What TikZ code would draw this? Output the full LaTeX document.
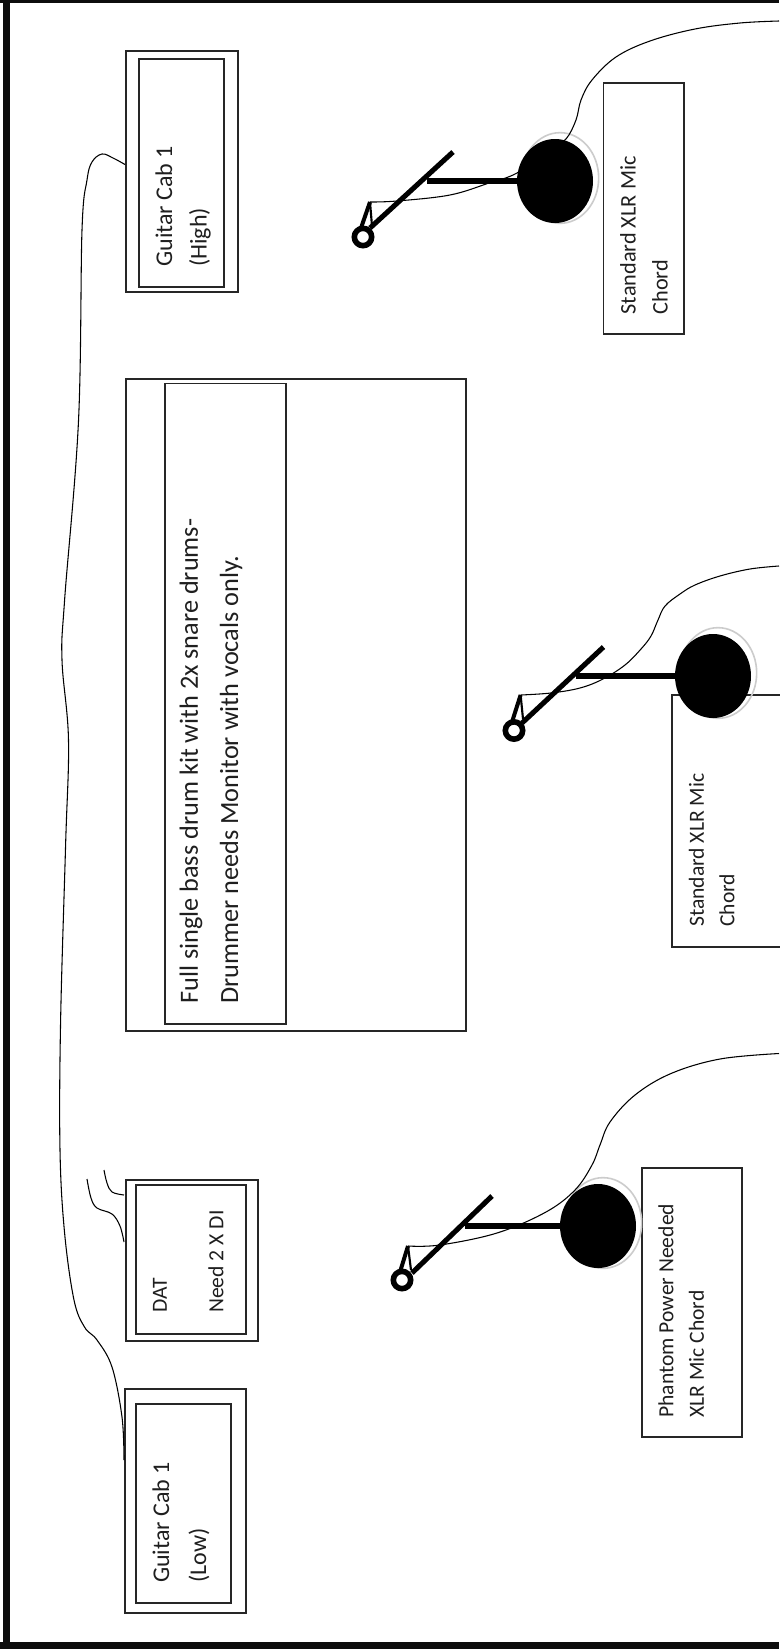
\documentclass[tikz,border=0pt]{standalone}
\usepackage{fontspec}
\setmainfont{Carlito}
\usetikzlibrary{fit,shapes.geometric}
\tikzset{
 x=.75pt,y=-.75pt,
 box/.style={draw=black!85,line width=1pt,fill=white,inner sep=0pt,rectangle},
 lab/.style={rotate=90,anchor=west,inner sep=0pt,text=black!88,font=\fontsize{16.2}{19}\selectfont},
 cablab/.style={lab,font=\fontsize{18}{21}\selectfont},
 biglab/.style={lab,font=\fontsize{19.7}{24}\selectfont},
 cable/.style={line width=.8pt,black,smooth,tension=.6},
 stem/.style={line width=4.4pt,black},
 tilt/.style={line width=3.8pt,black},
 head/.style={ellipse,fill=black,inner sep=0pt,minimum width=57pt,minimum height=63pt},
 halo/.style={ellipse,draw=black!20,line width=1.2pt,inner sep=0pt,minimum width=58pt,minimum height=68pt},
 ring/.style={circle,draw=black,line width=4.2pt,fill=white,inner sep=0pt,minimum size=13pt},
 leg/.style={line width=3pt,black}
}
\begin{document}
\begin{tikzpicture}
\useasboundingbox (0,0) rectangle (779,1649);
\fill[white] (0,0) rectangle (779,1649);
% page border
\fill[black!95] (0,0) rectangle (779,3);
\fill[black!95] (3,0) rectangle (10,1649);
\fill[black!95] (0,1642) rectangle (779,1649);

% guitar cab high
\node[box,fit={(126,51)(238,292)}] (highOuter) {};
\node[box,fit={(139,59)(224,287)}] (highInner) {};
\node[cablab] (highA) at (164,267) {Guitar Cab 1};
\node[cablab] (highB) at (200,267) {(High)};
% drums
\node[box,fit={(126,379)(466,1031)}] (drumOuter) {};
\node[box,fit={(165,383.5)(286,1024)}] (drumInner) {};
\node[biglab] (drumA) at (191,1004) {Full single bass drum kit with 2x snare drums-};
\node[biglab] (drumB) at (231,1004) {Drummer needs Monitor with vocals only.};
% DAT
\node[box,fit={(126,1180)(258,1341)}] (datOuter) {};
\node[box,fit={(136,1185)(246,1334)}] (datInner) {};
\node[lab] (datA) at (160,1313) {DAT};
\node[lab] (datB) at (216,1313) {Need 2 X DI};
% guitar cab low
\node[box,fit={(125,1389)(246,1613)}] (lowOuter) {};
\node[box,fit={(136,1404)(231,1603)}] (lowInner) {};
\node[cablab] (lowA) at (161,1583) {Guitar Cab 1};
\node[cablab] (lowB) at (199,1583) {(Low)};

% guitar cable
\coordinate (cabHigh) at (125,164.5);
\coordinate (cabLow) at (124,1460);
\draw[cable] plot coordinates {(cabHigh) (113,158) (102,154) (92,162) (87,180) (82,230) (78.5,421) (64.6,600) (62,660) (68.5,740) (65.6,845) (60.6,1021) (60,1150) (64.6,1233) (74,1300) (84.5,1327) (97,1340) (112,1367) (122,1417) (cabLow)};
% DI wires
\coordinate (diA) at (124,1195);
\coordinate (diB) at (124,1242);
\coordinate (diAend) at (104,1170);
\coordinate (diBend) at (87,1179);
\draw[cable] plot coordinates {(diAend) (107,1183) (112,1192) (diA)};
\draw[cable] plot coordinates {(diBend) (91,1198) (97,1208) (112,1214) (120,1226) (diB)};

% labels of mics
\node[box,fit={(603.5,83)(684,334)}] (micOneBox) {};
\node[lab,font=\fontsize{16.7}{19}\selectfont] (micOneA) at (628,314.6) {Standard XLR Mic};
\node[lab,font=\fontsize{16.7}{19}\selectfont] (micOneB) at (660,314.6) {Chord};
\node[box,fit={(672,695)(781,947)}] (micTwoBox) {};
\node[lab] (micTwoA) at (696.5,927) {Standard XLR Mic};
\node[lab] (micTwoB) at (727,927) {Chord};
\node[box,fit={(642,1168)(742,1437)}] (micThreeBox) {};
\node[lab] (micThreeA) at (666,1418) {Phantom Power Needed};
\node[lab] (micThreeB) at (696.5,1418) {XLR Mic Chord};

% mic 1
\coordinate (oneTop) at (370,202);
\coordinate (oneEdge) at (779,21);
\node[ring] (oneRing) at (363,237) {};
\draw[leg] (oneTop) -- (361,228);
\draw[line width=1.6pt] (oneTop) -- (372,226);
\coordinate (oneStem) at (427,181);
\coordinate (oneTipA) at (453,152);
\coordinate (oneTipB) at (370,228);
\node[halo] (oneHalo) at (560,178) {};
\draw[tilt] (oneTipA) -- (oneTipB);
\draw[cable] plot coordinates {(oneTop) (397,201) (450,195) (489,183) (517,173) (550,150) (566,139) (576,120) (581,100) (592,80) (616,57) (650,41) (695,29) (740,23) (oneEdge)};
\node[head] (oneHead) at (555,181) {};
\draw[stem] (oneStem) -- (oneHead.center);

% mic 2
\coordinate (twoTop) at (520.6,695);
\coordinate (twoEdge) at (779,566);
\node[ring] (twoRing) at (514,730.5) {};
\draw[leg] (twoTop) -- (512,722);
\draw[line width=1.6pt] (twoTop) -- (523,719);
\coordinate (twoStem) at (576,676);
\coordinate (twoTipA) at (603.5,647);
\coordinate (twoTipB) at (522,723);
\node[halo] (twoHalo) at (718,673) {};
\draw[tilt] (twoTipA) -- (twoTipB);
\draw[cable] plot coordinates {(twoTop) (551,693) (580,688) (603,679) (625,665) (641,649) (651,636) (658,620) (665,606) (680,594) (695,585) (720,576) (750,569) (twoEdge)};
\node[head] (twoHead) at (713,676) {};
\draw[stem] (twoStem) -- (twoHead.center);

% mic 3
\coordinate (threeTop) at (408,1246);
\coordinate (threeEdge) at (779,1053.5);
\node[ring] (threeRing) at (402,1280) {};
\draw[leg] (threeTop) -- (400,1272);
\draw[line width=1.6pt] (threeTop) -- (411,1270);
\coordinate (threeStem) at (464.5,1226);
\coordinate (threeTipA) at (492,1196);
\coordinate (threeTipB) at (412,1273);
\node[halo] (threeHalo) at (603,1223) {};
\draw[tilt] (threeTipA) -- (threeTipB);
\draw[cable] plot coordinates {(threeTop) (440,1245) (497,1233) (546,1212) (575,1190) (592,1165) (600,1145) (610,1122) (635,1095) (671,1073.5) (720,1059) (threeEdge)};
\node[head] (threeHead) at (598,1226) {};
\draw[stem] (threeStem) -- (threeHead.center);
\end{tikzpicture}
\end{document}
